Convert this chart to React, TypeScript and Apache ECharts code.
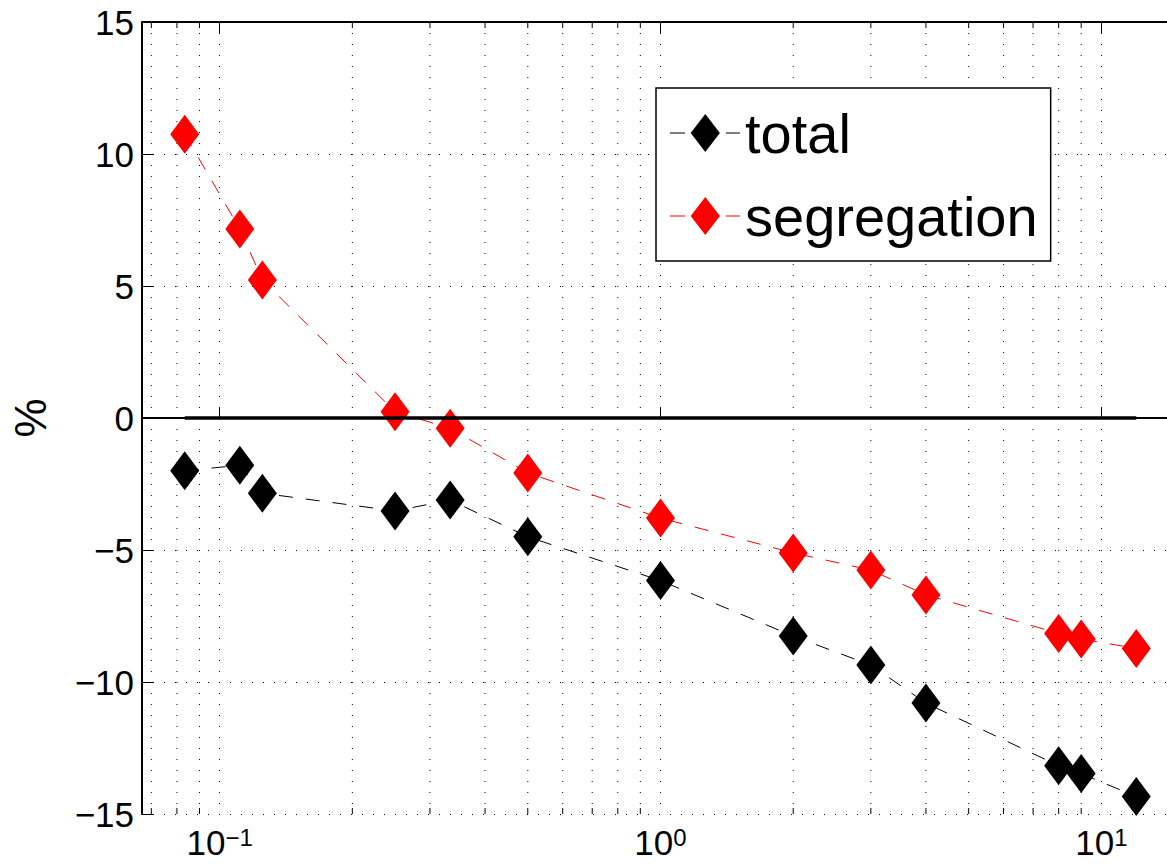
import React, { useEffect, useRef } from "react";
import * as echarts from "echarts";

// Sweep parameter (log scale) and the two relative changes in %
const xValues = [1 / 12, 1 / 9, 1 / 8, 1 / 4, 1 / 3, 1 / 2, 1, 2, 3, 4, 8, 9, 12];
const totalValues = [-2.0, -1.79, -2.85, -3.52, -3.11, -4.5, -6.16, -8.26, -9.36, -10.8, -13.17, -13.47, -14.34];
const segregationValues = [10.75, 7.16, 5.23, 0.24, -0.39, -2.08, -3.79, -5.11, -5.76, -6.7, -8.16, -8.37, -8.73];

// Reference line at zero spanning the sampled range
const zeroLine = [
  [1 / 12, 0],
  [12, 0],
];

// Axis ranges
const xMin = 1 / 15;
const xMax = 15;
const yMin = -15;
const yMax = 15;
const yStep = 5;

// Minor decades for the log grid
const minorTicks = [0.07, 0.08, 0.09, 0.2, 0.3, 0.4, 0.5, 0.6, 0.7, 0.8, 0.9, 2, 3, 4, 5, 6, 7, 8, 9];

const FONT = "'Liberation Sans', Arial, Helvetica, sans-serif";

// Legend icon: short dash, diamond, short dash
const legendIcon =
  "path://M0,18.4h15v1.2h-15z M35.3,0 L49.9,19 L35.3,38 L20.7,19 Z M56,18.4h14v1.2h-14z";

// The plot box runs a little past the right edge of the visible page
const VIEW_W = 1167;
const VIEW_H = 868;
const CANVAS_W = 1200;

function fmtY(v: number): string {
  return v < 0 ? "\u2212" + Math.abs(v) : String(v);
}

function fmtX(v: number): string {
  const e = Math.log10(v);
  const r = Math.round(e);
  if (Math.abs(e - r) > 1e-6) return "";
  const exp = r < 0 ? "\u2212" + Math.abs(r) : String(r);
  return `{b|10}{e|${exp}}`;
}

export default function App() {
  const ref = useRef<HTMLDivElement>(null);

  useEffect(() => {
    if (!ref.current) return;
    const chart = echarts.init(ref.current, undefined, { renderer: "svg" });

    const gridDots = { color: "#000", width: 1, type: [1, 10] as number[] };

    const option: any = {
      animation: false,
      backgroundColor: "#fff",
      textStyle: { fontFamily: FONT },
      grid: { left: 139, top: 22, right: CANVAS_W - 1179, bottom: VIEW_H - 814 },
      legend: {
        data: [
          { name: "total", icon: legendIcon },
          { name: "segregation", icon: legendIcon },
        ],
        orient: "vertical",
        left: 656,
        top: 88,
        itemWidth: 70,
        itemHeight: 38,
        itemGap: 27,
        padding: [17, 13, 17, 14],
        backgroundColor: "#fff",
        borderColor: "#000",
        borderWidth: 1.5,
        borderRadius: 0,
        textStyle: { fontSize: 56, color: "#000", fontFamily: FONT },
        selectedMode: false,
      },
      xAxis: [
        {
          type: "log",
          logBase: 10,
          min: xMin,
          max: xMax,
          position: "bottom",
          axisLine: { lineStyle: { color: "#000", width: 2 } },
          axisTick: { inside: true, length: 11, lineStyle: { color: "#000", width: 1 } },
          splitLine: { show: true, lineStyle: gridDots },
          axisLabel: {
            showMinLabel: false,
            showMaxLabel: false,
            margin: 11,
            formatter: fmtX,
            rich: {
              b: { fontSize: 35, fontFamily: FONT, color: "#000", lineHeight: 35 },
              e: { fontSize: 24, fontFamily: FONT, color: "#000", verticalAlign: "top", lineHeight: 22 },
            },
          },
        },
        {
          type: "log",
          logBase: 10,
          min: xMin,
          max: xMax,
          position: "top",
          axisLine: { lineStyle: { color: "#000", width: 2 } },
          axisTick: { inside: true, length: 11, lineStyle: { color: "#000", width: 1 } },
          axisLabel: { show: false },
          splitLine: { show: false },
        },
      ],
      yAxis: {
        type: "value",
        min: yMin,
        max: yMax,
        interval: yStep,
        name: "%",
        nameLocation: "middle",
        nameRotate: 90,
        nameGap: 90,
        nameTextStyle: { fontSize: 44, color: "#000", fontFamily: FONT },
        axisLine: { lineStyle: { color: "#000", width: 2 } },
        axisTick: { inside: true, length: 11, lineStyle: { color: "#000", width: 1 } },
        splitLine: { show: true, lineStyle: gridDots },
        axisLabel: { fontSize: 35, color: "#000", margin: 8, formatter: fmtY, fontFamily: FONT },
      },
      series: [
        {
          name: "minor-grid",
          type: "custom",
          z: 1,
          silent: true,
          data: minorTicks.map((v) => [v, 0]),
          encode: { x: 0, y: 1 },
          renderItem: (params: any, api: any) => {
            const x = api.coord([api.value(0), 0])[0];
            const cs = params.coordSys;
            const top = cs.y;
            const bottom = cs.y + cs.height;
            return {
              type: "group",
              children: [
                {
                  type: "line",
                  shape: { x1: x, y1: top, x2: x, y2: bottom },
                  style: { stroke: "#000", lineWidth: 1, lineDash: [1, 10] },
                },
                {
                  type: "line",
                  shape: { x1: x, y1: bottom, x2: x, y2: bottom - 6 },
                  style: { stroke: "#000", lineWidth: 1 },
                },
                {
                  type: "line",
                  shape: { x1: x, y1: top, x2: x, y2: top + 6 },
                  style: { stroke: "#000", lineWidth: 1 },
                },
              ],
            };
          },
        },
        {
          name: "total",
          type: "line",
          z: 3,
          data: xValues.map((x, i) => [x, totalValues[i]]),
          symbol: "diamond",
          symbolSize: [29, 39],
          itemStyle: { color: "#000" },
          lineStyle: { color: "#000", width: 1, type: [14, 13] },
        },
        {
          name: "segregation",
          type: "line",
          z: 3,
          data: xValues.map((x, i) => [x, segregationValues[i]]),
          symbol: "diamond",
          symbolSize: [29, 39],
          itemStyle: { color: "#ff0000" },
          lineStyle: { color: "#ff0000", width: 1, type: [14, 13] },
        },
        {
          name: "zero",
          type: "line",
          z: 4,
          silent: true,
          data: zeroLine,
          symbol: "none",
          lineStyle: { color: "#000", width: 3.5 },
        },
      ],
    };

    chart.setOption(option);
    return () => chart.dispose();
  }, []);

  return (
    <div
      style={{
        position: "fixed",
        left: 0,
        top: 0,
        width: VIEW_W,
        height: VIEW_H,
        overflow: "hidden",
        background: "#fff",
      }}
    >
      <div ref={ref} style={{ width: CANVAS_W, height: VIEW_H }} />
    </div>
  );
}
